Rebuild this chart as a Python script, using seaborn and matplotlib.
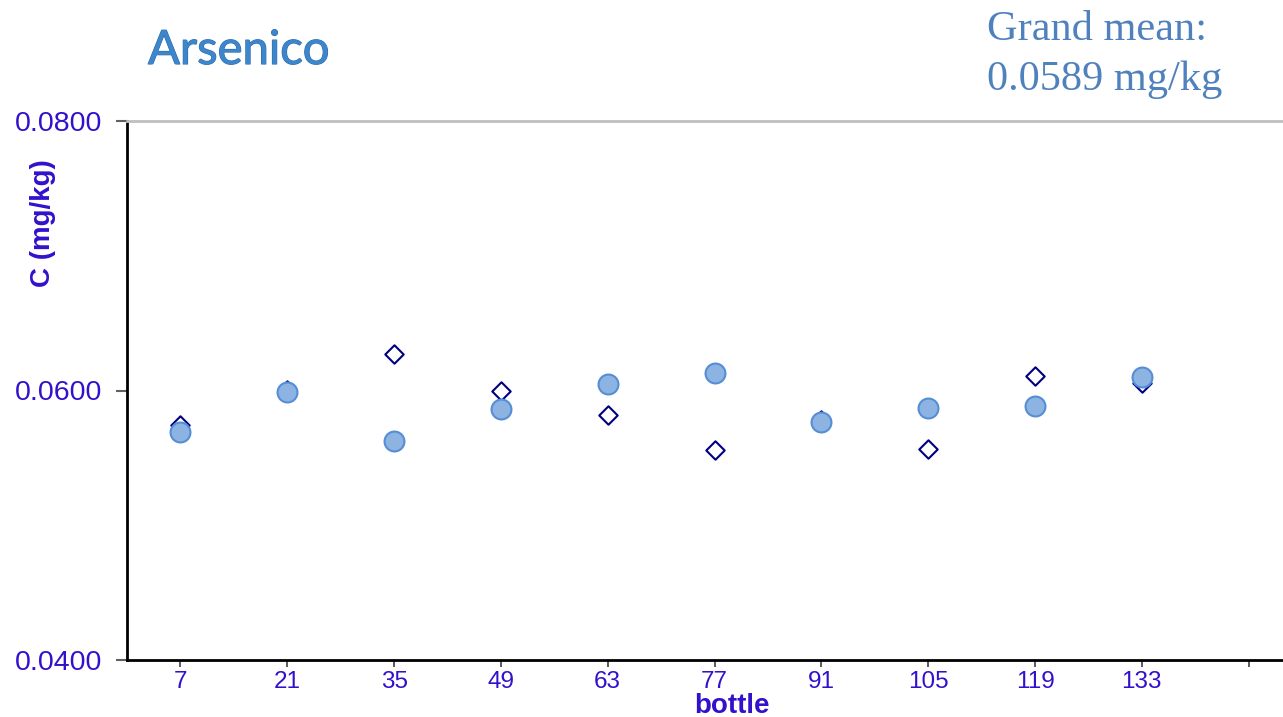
import numpy as np
import pandas as pd
import matplotlib
matplotlib.use("Agg")
import matplotlib.pyplot as plt
import matplotlib.patheffects as pe
import seaborn as sns

# --- data ---
bottles = [7, 21, 35, 49, 63, 77, 91, 105, 119, 133]
series_a = [0.05745, 0.06005, 0.06270, 0.05995, 0.05820, 0.05560, 0.05780, 0.05565, 0.06105, 0.06055]  # open diamonds
series_b = [0.05690, 0.05990, 0.05625, 0.05865, 0.06050, 0.06130, 0.05765, 0.05870, 0.05885, 0.06100]  # filled circles
x_ticks = [7, 21, 35, 49, 63, 77, 91, 105, 119, 133, 147]
x_tick_labels = ["7", "21", "35", "49", "63", "77", "91", "105", "119", "133", ""]
y_ticks = [0.04, 0.06, 0.08]
title = "Arsenico"
grand_mean = ["Grand mean:", "0.0589 mg/kg"]

df_a = pd.DataFrame({"bottle": bottles, "C": series_a})
df_b = pd.DataFrame({"bottle": bottles, "C": series_b})

sns.set_theme(style="white")
plt.rcParams['font.family'] = ['Liberation Sans', 'DejaVu Sans']

txt_col = "#3310CC"

fig = plt.figure(figsize=(12.83, 7.17), dpi=100)
ax = fig.add_axes([127 / 1283, 1 - 660 / 717, 1156 / 1283, 539 / 717])

sns.scatterplot(data=df_a, x="bottle", y="C", ax=ax, marker="D", s=88,
                facecolor="white", edgecolor="#000080", linewidth=1.5, zorder=3)
sns.scatterplot(data=df_b, x="bottle", y="C", ax=ax, marker="o", s=205,
                color="#8DB3E2", edgecolor="#558ED5", linewidth=1.5, zorder=4)

ax.set_xlim(0, 151.5)
ax.set_ylim(0.04, 0.08)
ax.set_xticks(x_ticks)
ax.set_xticklabels(x_tick_labels)
ax.set_yticks(y_ticks)
ax.set_yticklabels([f"{v:.4f}" for v in y_ticks])

ax.tick_params(axis="x", colors="#404040", labelcolor=txt_col, labelsize=17.5,
               direction="out", length=5, width=1.2, bottom=True, pad=3)
ax.tick_params(axis="y", colors="#606060", labelcolor=txt_col, labelsize=20.5,
               direction="out", length=8, width=1.5, left=True, pad=10)

for s in ["left", "bottom"]:
    ax.spines[s].set_color("black")
    ax.spines[s].set_linewidth(2)
ax.spines["right"].set_visible(False)
ax.spines["top"].set_color("#BFBFBF")
ax.spines["top"].set_linewidth(2)

ax.set_xlabel("bottle", fontsize=20, fontweight="bold", color=txt_col)
ax.set_ylabel("C (mg/kg)", fontsize=20, fontweight="bold", color=txt_col)
ax.xaxis.set_label_coords(0.523, -0.0615)
ax.yaxis.set_label_coords(-0.061, 0.81)

fig.text(148 / 1283, 1 - 64 / 717, title, fontsize=34, color="#3D86CC",
         family=["Lato", "DejaVu Sans"], va="baseline", ha="left",
         path_effects=[pe.withStroke(linewidth=0.8, foreground="#2A6AAE")])
fig.text(987 / 1283, 1 - 40 / 717, grand_mean[0], fontsize=30.5, color="#4F81BD",
         family=["Liberation Serif", "DejaVu Serif"], va="baseline", ha="left")
fig.text(987 / 1283, 1 - 90 / 717, grand_mean[1], fontsize=30.5, color="#4F81BD",
         family=["Liberation Serif", "DejaVu Serif"], va="baseline", ha="left")

fig.savefig("out.png", dpi=100)
